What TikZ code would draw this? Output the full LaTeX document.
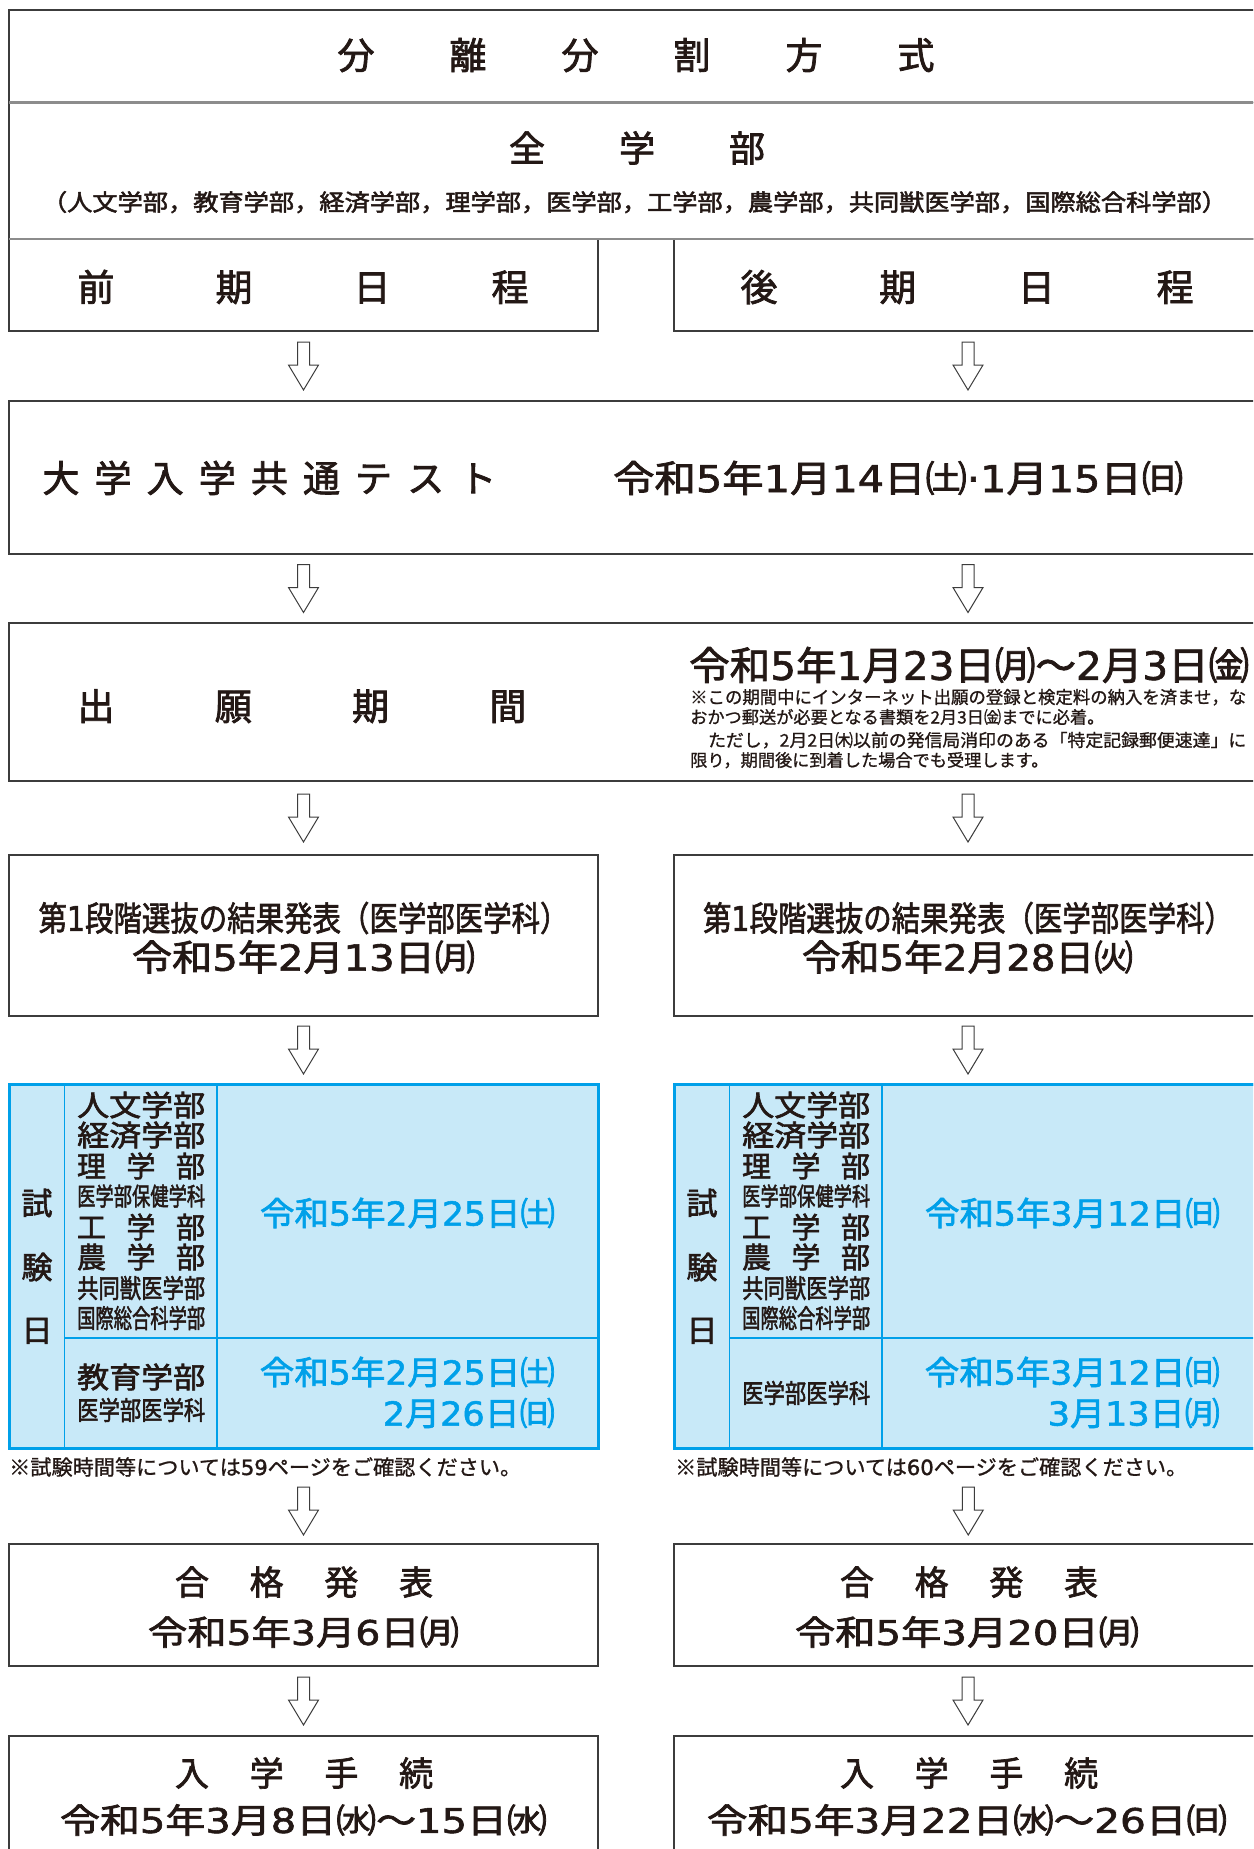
\documentclass[tikz,border=0pt]{standalone}
\usepackage{fontspec}
\setmainfont{Noto Sans CJK JP}[FakeBold=2.0]
\newfontfamily\dgfont{DejaVu Sans}[FakeBold=1.6]
\newfontfamily\notefont{Noto Sans CJK JP}[FakeBold=1.0]
\usepackage{graphicx}
\usetikzlibrary{calc}
\definecolor{ink}{HTML}{231815}
\definecolor{lineC}{HTML}{3C3C3C}
\definecolor{sepC}{HTML}{8C8C8C}
\definecolor{cyanB}{HTML}{00A0E9}
\definecolor{cyanF}{HTML}{C8E9F8}
\newcounter{nd}
\newcommand\dg[1]{{\dgfont #1}}
% \tx{anchor}{x}{ycenter}{size}{width}{text}
\newcommand\tx[6]{\stepcounter{nd}%
  \node[anchor=#1, inner sep=0pt, text=ink, font=\fontsize{#4}{#4}\selectfont, name=t\arabic{nd}] at ({#2},{#3+0.38*#4}) {\resizebox{#5pt}{\height}{#6}};}
% \tl{anchor}{x}{ycenter}{size}{text}
\newcommand\tl[5]{\stepcounter{nd}%
  \node[anchor=#1, inner sep=0pt, text=ink, font=\fontsize{#4}{#4}\selectfont, name=t\arabic{nd}] at ({#2},{#3+0.38*#4}) {#5};}
% \ch{x}{ycenter}{size}{char}
\newcommand\ch[4]{\tl{base}{#1}{#2}{#3}{#4}}
% \bx{name}{x1}{y1}{x2}{y2}
\newcommand\bx[5]{\node[box, minimum width={#4-#2}, minimum height={#5-#3}] (#1) at ({(#2+#4)/2},{(#3+#5)/2}) {};}
\tikzset{
  box/.style={draw=lineC, line width=1.6pt, inner sep=0pt, outer sep=0pt},
  tbl/.style={draw=cyanB, fill=cyanF, line width=3pt, inner sep=0pt, outer sep=0pt},
  blockarrow/.pic={\draw[lineC, line width=1pt, fill=white] (-6,-24) -- (-6,-1) -- (-15,-1) -- (0,24) -- (15,-1) -- (6,-1) -- (6,-24) -- cycle;}
}
\begin{document}
\begin{tikzpicture}[x=1pt,y=-1pt]
\useasboundingbox (0,0) rectangle (1253,1849);
\clip (0,0) rectangle (1253,1849);
\fill[white] (0,0) rectangle (1253,1849);
% ---------- boxes ----------
\bx{title}{9}{10}{1262}{102.5}
\bx{allfac}{9}{102.5}{1262}{239}
\bx{zenki}{9}{239}{598}{331}
\bx{kouki}{674}{239}{1262}{331}
\draw[sepC, line width=2.6pt] (title.south west) -- (title.south east);
\draw[sepC, line width=2.6pt] (allfac.south west) -- (allfac.south east);
\bx{kyotsu}{9}{401}{1262}{554}
\bx{shutsugan}{9}{623}{1262}{781}
\bx{dai1L}{9}{855}{598}{1016}
\bx{dai1R}{674}{855}{1262}{1016}
\bx{goukakuL}{9}{1544}{598}{1666}
\bx{goukakuR}{674}{1544}{1262}{1666}
\bx{tetsuzukiL}{9}{1736}{598}{1870}
\bx{tetsuzukiR}{674}{1736}{1262}{1870}
% ---------- exam tables ----------
\node[tbl, minimum width=589, minimum height=364] (tblL) at (303.5,1266) {};
\node[tbl, minimum width=589, minimum height=364] (tblR) at (968.5,1266) {};
\foreach \o in {0,665}{
  \draw[cyanB, line width=1.6pt] (64.5+\o,1085.5) -- (64.5+\o,1446.5);
  \draw[cyanB, line width=1.6pt] (217+\o,1085.5) -- (217+\o,1446.5);
  \draw[cyanB, line width=1.6pt] (64.5+\o,1338) -- (596.5+\o,1338);
}
\draw[cyanB, line width=3pt] (tblL.north west) rectangle (tblL.south east);
\draw[cyanB, line width=3pt] (tblR.north west) rectangle (tblR.south east);
% ---------- arrows ----------
\foreach \a/\b in {zenki/kyotsu, shutsugan/dai1L, dai1L/tblL, goukakuL/tetsuzukiL}{
  \pic at ($(\a.south -| zenki.south)!0.5!(\b.north -| zenki.south)$) {blockarrow};
  \pic at ($(\a.south -| kouki.south)!0.5!(\b.north -| kouki.south)$) {blockarrow};
}
\pic at ($(kyotsu.south -| zenki.south)!0.5!(shutsugan.north -| zenki.south)$) {blockarrow};
\pic at ($(kyotsu.south -| kouki.south)!0.5!(shutsugan.north -| kouki.south)$) {blockarrow};
\pic at ($(tblL.south)!0.5!(goukakuL.north)+(0,15)$) {blockarrow};
\pic at ($(tblR.south)!0.5!(goukakuR.north)+(0,15)$) {blockarrow};
% ---------- texts ----------
\foreach \c [count=\i from 0] in {分,離,分,割,方,式} {\ch{356+112*\i}{55}{37}{\c}}
\foreach \c [count=\i from 0] in {全,学,部} {\ch{527+110*\i}{148}{36}{\c}}
\tx{base}{634.5}{202}{23}{1185}{（人文学部，教育学部，経済学部，理学部，医学部，工学部，農学部，共同獣医学部，国際総合科学部）}
\foreach \c [count=\i from 0] in {前,期,日,程} {\ch{96+138*\i}{287}{37}{\c}}
\foreach \c [count=\i from 0] in {後,期,日,程} {\ch{759+138.7*\i}{287}{37}{\c}}
\foreach \c [count=\i from 0] in {大,学,入,学,共,通,テ,ス,ト} {\ch{61+52.1*\i}{478}{37}{\c}}
\tx{base west}{613}{478}{37}{570}{令和\dg{5}年\dg{1}月\dg{14}日㈯\dg{·1}月\dg{15}日㈰}
\foreach \c [count=\i from 0] in {出,願,期,間} {\ch{96+137.3*\i}{706}{37}{\c}}
\tx{base west}{689}{665}{39}{560}{令和\dg{5}年\dg{1}月\dg{23}日㈪〜\dg{2}月\dg{3}日㈮}
\tx{base west}{690}{697}{17.5}{556}{\notefont ※この期間中にインターネット出願の登録と検定料の納入を済ませ，な}
\tl{base west}{690}{717}{17.2}{\notefont おかつ郵送が必要となる書類を2月3日㈮までに必着。}
\tx{base west}{690}{740}{17.5}{556}{\notefont 　ただし，2月2日㈭以前の発信局消印のある「特定記録郵便速達」に}
\tl{base west}{690}{760}{17.2}{\notefont 限り，期間後に到着した場合でも受理します。}
% first stage
\tx{base}{303.5}{918}{34}{530}{第\dg{1}段階選抜の結果発表（医学部医学科）}
\tx{base}{303.5}{957}{36}{343}{令和\dg{5}年\dg{2}月\dg{13}日㈪}
\tx{base}{968}{918}{34}{530}{第\dg{1}段階選抜の結果発表（医学部医学科）}
\tx{base}{967.5}{957}{36}{331}{令和\dg{5}年\dg{2}月\dg{28}日㈫}
% tables: department lists
\foreach \o in {0,665}{
  \ch{37+\o}{1203}{31}{試}
  \ch{37+\o}{1267}{31}{験}
  \ch{37+\o}{1330}{31}{日}
  \tx{base west}{77+\o}{1105}{29}{128}{人文学部}
  \tx{base west}{77+\o}{1135}{29}{128}{経済学部}
  \ch{91.5+\o}{1166}{29}{理}\ch{141+\o}{1166}{29}{学}\ch{190.5+\o}{1166}{29}{部}
  \tx{base west}{77+\o}{1196}{25}{128}{医学部保健学科}
  \ch{91.5+\o}{1227}{29}{工}\ch{141+\o}{1227}{29}{学}\ch{190.5+\o}{1227}{29}{部}
  \ch{91.5+\o}{1257}{29}{農}\ch{141+\o}{1257}{29}{学}\ch{190.5+\o}{1257}{29}{部}
  \tx{base west}{77+\o}{1288}{26}{128}{共同獣医学部}
  \tx{base west}{77+\o}{1318}{26}{128}{国際総合科学部}
}
\tx{base west}{77}{1377}{29}{128}{教育学部}
\tx{base west}{77}{1410}{26}{128}{医学部医学科}
\tx{base west}{742}{1393}{26}{128}{医学部医学科}
% tables: dates
\tx{base}{407.5}{1213}{33}{295}{\color{cyanB}令和\dg{5}年\dg{2}月\dg{25}日㈯}
\tx{base east}{555}{1372}{33}{295}{\color{cyanB}令和\dg{5}年\dg{2}月\dg{25}日㈯}
\tx{base east}{555}{1413}{33}{172}{\color{cyanB}\dg{2}月\dg{26}日㈰}
\tx{base}{1072.5}{1213}{33}{295}{\color{cyanB}令和\dg{5}年\dg{3}月\dg{12}日㈰}
\tx{base east}{1220}{1372}{33}{295}{\color{cyanB}令和\dg{5}年\dg{3}月\dg{12}日㈰}
\tx{base east}{1220}{1413}{33}{172}{\color{cyanB}\dg{3}月\dg{13}日㈪}
\tx{base west}{9}{1467}{21}{512}{\notefont ※試験時間等については\dg{59}ページをご確認ください。}
\tx{base west}{675}{1467}{21}{512}{\notefont ※試験時間等については\dg{60}ページをご確認ください。}
% results and enrollment
\foreach \c [count=\i from 0] in {合,格,発,表} {\ch{192+74.7*\i}{1582}{34}{\c}\ch{857+74.7*\i}{1582}{34}{\c}}
\tx{base}{303.5}{1632}{34}{311}{令和\dg{5}年\dg{3}月\dg{6}日㈪}
\tx{base}{967}{1632}{34}{344}{令和\dg{5}年\dg{3}月\dg{20}日㈪}
\foreach \c [count=\i from 0] in {入,学,手,続} {\ch{192+74.7*\i}{1773}{34}{\c}\ch{857+74.7*\i}{1773}{34}{\c}}
\tx{base}{303.5}{1820}{34}{487}{令和\dg{5}年\dg{3}月\dg{8}日㈬〜\dg{15}日㈬}
\tx{base}{967}{1820}{34}{520}{令和\dg{5}年\dg{3}月\dg{22}日㈬〜\dg{26}日㈰}
\end{tikzpicture}
\end{document}
